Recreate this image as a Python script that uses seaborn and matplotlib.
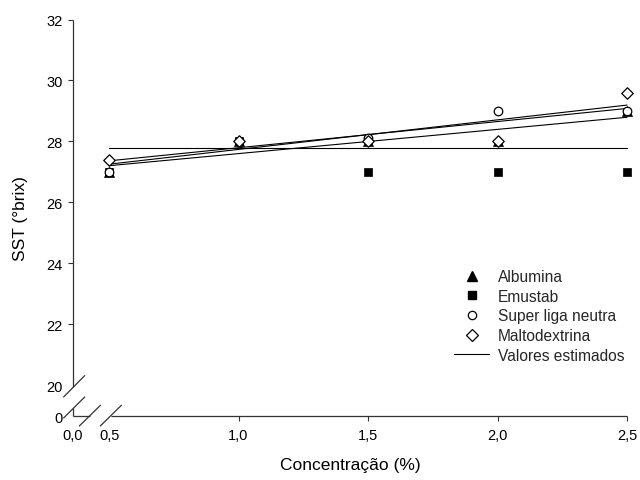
import numpy as np
import pandas as pd
import matplotlib
matplotlib.use("Agg")
import matplotlib.pyplot as plt
import seaborn as sns

# ---- data ----
conc = [0.5, 1.0, 1.5, 2.0, 2.5]
albumina = [27.0, 28.0, 28.0, 28.0, 29.0]
emustab = [27.0, 28.0, 27.0, 27.0, 27.0]
super_liga = [27.0, 28.0, 28.1, 29.0, 29.0]
maltodextrina = [27.4, 28.0, 28.0, 28.0, 29.6]

# estimated (fitted) values at the ends of the range
est_x = [0.5, 2.5]
est_albumina = [27.20, 28.79]
est_super = [27.25, 29.19]
est_malto = [27.36, 29.08]
est_emustab = [27.78, 27.78]

x_ticks = [0.5, 1.0, 1.5, 2.0, 2.5]
x_ticklabels = ["0,5", "1,0", "1,5", "2,0", "2,5"]
y_ticks = [20, 22, 24, 26, 28, 30, 32]
y_ticklabels = ["20", "22", "24", "26", "28", "30", "32"]

sns.set_theme(style="white")
plt.rcParams["font.family"] = ["Liberation Sans", "DejaVu Sans"]

fig = plt.figure(figsize=(6.4, 4.81), dpi=100)
W, H = 640, 481
L, R, T, B = 73, 627, 20.5, 417
ax = fig.add_axes([L / W, 1 - B / H, (R - L) / W, (B - T) / H])

# broken-axis positions for the "0,0" and "0" origin labels
x_origin = 0.5 - 36 / 258.5
y_origin = 20 - 31 / 30.46
ax.set_xlim(x_origin, 2.5)
ax.set_ylim(y_origin, 32)

lw = 0.8
for est in [est_emustab, est_albumina, est_super, est_malto]:
    sns.lineplot(x=est_x, y=est, ax=ax, color="black", linewidth=lw,
                 legend=False, clip_on=False, zorder=2)

sns.scatterplot(x=conc, y=albumina, ax=ax, marker="^", s=52, color="black",
                edgecolor="black", linewidth=0.5, clip_on=False, zorder=3)
sns.scatterplot(x=conc, y=emustab, ax=ax, marker="s", s=40, color="black",
                edgecolor="black", linewidth=0.5, clip_on=False, zorder=3)
sns.scatterplot(x=conc, y=super_liga, ax=ax, marker="o", s=38, color="white",
                edgecolor="black", linewidth=0.9, clip_on=False, zorder=4)
sns.scatterplot(x=conc, y=maltodextrina, ax=ax, marker="D", s=34, color="white",
                edgecolor="black", linewidth=0.9, clip_on=False, zorder=5)

# ticks
ax.set_xticks([x_origin] + x_ticks)
ax.set_xticklabels(["0,0"] + x_ticklabels)
ax.set_yticks([y_origin] + y_ticks)
ax.set_yticklabels(["0"] + y_ticklabels)
ax.tick_params(axis="both", which="major", direction="out", length=3.5,
               width=0.8, color="#333333", labelsize=10.5, labelcolor="black",
               bottom=True, left=True)
ax.tick_params(axis="x", pad=5)
ax.tick_params(axis="y", pad=4)
xt = ax.xaxis.get_major_ticks()
xt[0].tick1line.set_visible(False)
xt[1].tick1line.set_visible(False)
yt = ax.yaxis.get_major_ticks()
yt[0].tick1line.set_visible(False)
yt[1].tick1line.set_visible(False)

for s in ax.spines.values():
    s.set_visible(False)

def px(xp, yp):
    return ((xp - L) / (R - L), (B - yp) / (B - T))

def seg(p0, p1):
    a = px(*p0)
    b = px(*p1)
    ax.plot([a[0], b[0]], [a[1], b[1]], transform=ax.transAxes, color="#333333",
            lw=0.9, clip_on=False, solid_capstyle="butt", zorder=6)

# axis lines with breaks
seg((73, 20.5), (73, 388))
seg((73, 409), (73, 417))
seg((73, 417), (90, 417))
seg((111, 417), (627, 417))
# break marks
seg((63.3, 398.3), (85, 376.3))
seg((63.3, 419.3), (85, 397.7))
seg((79, 427.3), (100.7, 406))
seg((100, 427.3), (121.7, 406))

ax.set_xlabel("Concentração (%)", fontsize=12.5, color="black", labelpad=11)
ax.set_ylabel("SST (°brix)", fontsize=12.5, color="black", labelpad=13)

from matplotlib.lines import Line2D
handles = [
    Line2D([], [], marker="^", color="black", linestyle="", markersize=7.2),
    Line2D([], [], marker="s", color="black", linestyle="", markersize=6.3),
    Line2D([], [], marker="o", markerfacecolor="white", markeredgecolor="black",
           linestyle="", markersize=6, markeredgewidth=0.9),
    Line2D([], [], marker="D", markerfacecolor="white", markeredgecolor="black",
           linestyle="", markersize=5.8, markeredgewidth=0.9),
    Line2D([], [], color="black", linewidth=lw),
]
labels = ["Albumina", "Emustab", "Super liga neutra", "Maltodextrina",
          "Valores estimados"]
fig.legend(handles, labels, loc="upper left",
           bbox_to_anchor=(454 / W, 1 - 270 / H), frameon=False,
           fontsize=11.2, handlelength=2.25, handletextpad=0.55,
           labelspacing=0.3, borderpad=0, borderaxespad=0)

fig.savefig("out.png", dpi=100)
